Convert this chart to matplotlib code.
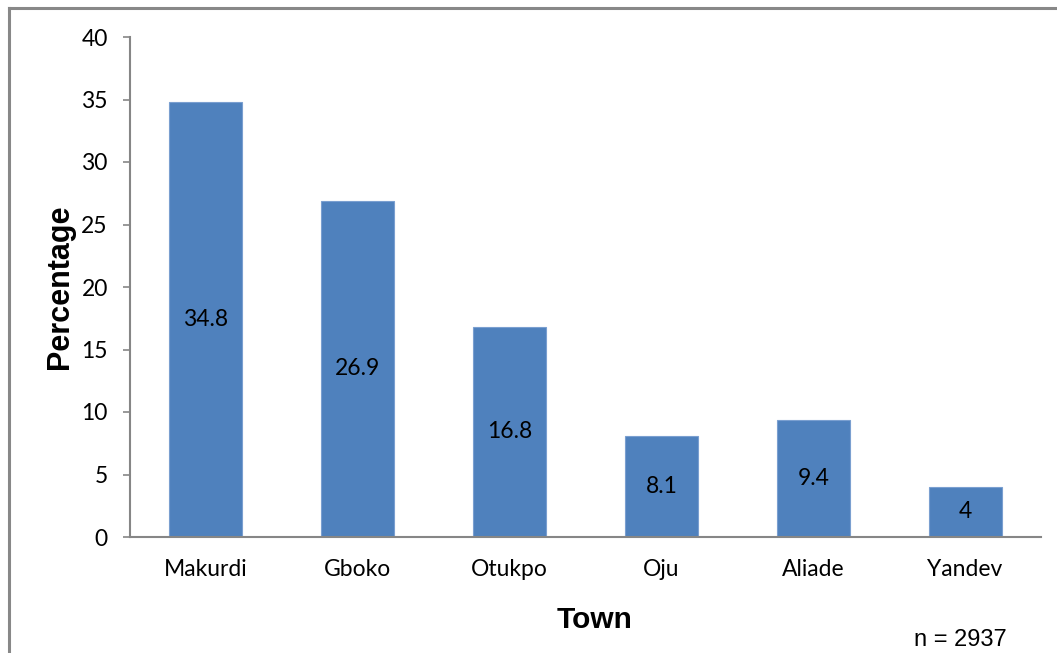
import matplotlib
matplotlib.use('Agg')
import matplotlib.pyplot as plt
from matplotlib.lines import Line2D

towns = ['Makurdi', 'Gboko', 'Otukpo', 'Oju', 'Aliade', 'Yandev']
percentages = [34.8, 26.9, 16.8, 8.1, 9.4, 4]
label_texts = ['34.8', '26.9', '16.8', '8.1', '9.4', '4']
y_ticks = [0, 5, 10, 15, 20, 25, 30, 35, 40]

W, H = 1057, 653
BAR_COLOR = '#4F81BD'
AXIS_COLOR = '#868686'
TICK_FONT = 16.5

fig = plt.figure(figsize=(W / 100, H / 100), dpi=100)
ax = fig.add_axes([130 / W, 1 - 537 / H, (1041 - 130) / W, 500 / H])

x = range(len(towns))
bars = ax.bar(x, percentages, width=0.48, color=BAR_COLOR,
              edgecolor='#7A9FD0', linewidth=0.8)

# value labels in the middle of each bar (Excel "center" position)
for b, txt in zip(bars, label_texts):
    ax.text(b.get_x() + b.get_width() / 2, b.get_height() / 2, txt,
            ha='center', va='center', fontsize=TICK_FONT, family='Lato',
            color='black')

ax.set_xlim(-0.5, len(towns) - 0.5)
ax.set_ylim(0, 40)
ax.set_yticks(y_ticks)
ax.set_xticks(list(x))
ax.set_xticklabels(towns)

for side in ['top', 'right']:
    ax.spines[side].set_visible(False)
for side in ['left', 'bottom']:
    ax.spines[side].set_color(AXIS_COLOR)
    ax.spines[side].set_linewidth(1.5)

ax.tick_params(axis='y', length=5, width=1.2, color=AXIS_COLOR, pad=11,
               labelsize=TICK_FONT)
ax.tick_params(axis='x', length=0, pad=16, labelsize=TICK_FONT)
for lbl in ax.get_xticklabels() + ax.get_yticklabels():
    lbl.set_family('Lato')

fig.text(60 / W, 1 - 287 / H, 'Percentage', rotation=90, ha='center',
         va='center', fontsize=22, fontweight='bold',
         family='Liberation Sans')
fig.text(595 / W, 1 - 620 / H, 'Town', ha='center', va='center',
         fontsize=21.5, fontweight='bold', family='Liberation Sans')
fig.text(960 / W, 1 - 640 / H, 'n = 2937', ha='center', va='center',
         fontsize=17, family='Liberation Sans')

# outer chart-area border (only top and left edges visible in the crop)
fig.add_artist(Line2D([8.5 / W, 8.5 / W], [1 - 8 / H, 0],
                      transform=fig.transFigure, color='#888888', lw=2.2))
fig.add_artist(Line2D([8.5 / W, 1], [1 - 8 / H, 1 - 8 / H],
                      transform=fig.transFigure, color='#888888', lw=2.2))

fig.savefig('out.png', dpi=100)
